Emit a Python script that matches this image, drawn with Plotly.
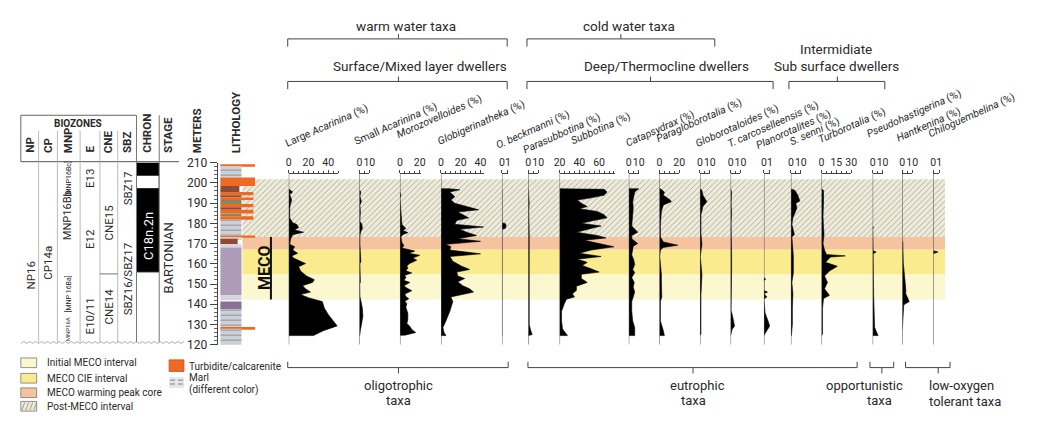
import plotly.graph_objects as go

# ======================= DATA =======================
depth_ticks = [120, 130, 140, 150, 160, 170, 180, 190, 200, 210]

interval_names = ["Initial MECO interval", "MECO CIE interval", "MECO warming peak core", "Post-MECO interval"]
interval_bottom_m = [142.4, 154.8, 167.1, 173.2]
interval_top_m = [154.8, 167.1, 173.2, 201.8]

litho_top_m = [209.2, 208.3, 202.7, 198.4, 195.5, 193.9, 192.8, 191.5, 189.6, 188.0, 186.7, 184.8, 183.5, 181.8,
               174.0, 173.2, 172.4, 169.6, 168.0, 144.4, 141.3, 137.7, 128.8, 127.9]
litho_bottom_m = [208.3, 202.7, 198.4, 195.5, 193.9, 192.8, 191.5, 189.6, 188.0, 186.7, 184.8, 183.5, 181.8, 174.0,
                  173.2, 172.4, 169.6, 168.0, 144.4, 142.0, 137.7, 128.8, 127.9, 120.0]
litho_kind = ["turbidite", "marl", "turbidite", "brown", "turbidite", "brown", "turbidite", "olive", "turbidite",
              "brown", "turbidite", "olive", "turbidite", "marl", "turbidite", "marl", "brown", "pale", "lavender",
              "pale", "purple", "marl", "turbidite", "marl"]
litho_extent = [1.0, 0.61, 1.0, 0.55, 0.95, 0.61, 0.95, 0.61, 0.95, 0.61, 0.95, 0.61, 0.95, 0.61,
                1.0, 0.61, 0.5, 0.61, 0.61, 0.61, 0.61, 0.61, 1.0, 0.61]

chron_top_m = [210.0, 203.8, 197.0]
chron_bottom_m = [203.8, 197.0, 156.0]
chron_polarity = ["N", "R", "N"]

taxa_labels = ["Large <i>Acarinina</i> (%)", "Small <i>Acarinina</i> (%)", "<i>Morozovelloides</i> (%)",
               "<i>Globigerinatheka</i> (%)", "<i>O. beckmanni</i> (%)", "<i>Parasubbotina</i> (%)",
               "<i>Subbotina</i> (%)", "<i>Catapsydrax</i> (%)", "<i>Paragloborotalia</i> (%)",
               "<i>Globorotaloides</i> (%)", "<i>T. carcoselleensis</i> (%)", "<i>Planorotalites</i> (%)",
               "<i>S. senni</i> (%)", "<i>Turborotalia</i> (%)", "<i>Pseudohastigerina</i> (%)",
               "<i>Hantkenina</i> (%)", "<i>Chiloguembelina</i> (%)"]
taxa_range = [[0, 50], [0, 10], [0, 21], [0, 44], [0, 1], [0, 10], [20, 76], [0, 10.5], [0, 20],
              [0, 10], [0, 10], [0, 1], [0, 10], [0, 30], [0, 10], [0, 10], [0, 1]]
taxa_tickvals = [[0, 20, 40], [0, 10], [0, 20], [0, 20, 40], [0, 1], [0, 10], [20, 40, 60], [0, 10], [0, 20],
                 [0, 10], [0, 10], [0, 1], [0, 10], [0, 15, 30], [0, 10], [0, 10], [0, 1]]

large_acarinina_m = [197.0, 195.5, 194.2, 191.5, 189.9, 187.5, 182.7, 180.3, 179.5, 177.9, 176.7, 175.6, 174.4, 172.4,
                     169.6, 168.4, 166.8, 165.2, 163.9, 162.8, 161.2, 160.1, 158.5, 156.4, 154.0, 152.1, 150.8, 149.2,
                     147.6, 146.0, 144.8, 143.2, 141.3, 138.1, 134.9, 131.7, 129.3, 126.9, 124.5]
large_acarinina_pct = [0, 4, 1, 3, 2, 1, 1, 4, 8, 10, 6, 15, 4, 2, 1, 6, 4, 9, 3, 5, 12, 17, 10, 12, 18, 26, 24, 14,
                       17, 22, 12, 20, 34, 36, 40, 45, 49, 35, 25]

small_acarinina_m = [196.5, 195.5, 193.5, 190.7, 189.0, 186.0, 181.0, 179.5, 177.5, 176.0, 174.0, 170.0, 161.0, 160.0,
                     151.0, 150.0, 144.0, 141.0, 138.0, 134.0, 130.0, 127.0, 124.5]
small_acarinina_pct = [0, 1.5, 0.5, 2, 0.5, 1, 0.5, 2.5, 3, 1.5, 0.5, 0.5, 1.5, 0.5, 1, 0.3, 0.5, 1.5, 3, 3.5, 2.5, 1, 0.3]

morozovelloides_m = [195.5, 193.7, 192.5, 179.4, 177.5, 176.5, 175.4, 174.5, 173.2, 170.5, 169.0, 167.8, 166.3, 165.2,
                     164.2, 162.8, 161.8, 160.2, 159.0, 157.8, 156.5, 155.5, 154.3, 153.1, 151.8, 150.8, 149.1, 148.0,
                     146.7, 145.1, 143.8, 142.7, 141.5, 140.3, 138.5, 135.5, 132.3, 130.5, 129.1, 127.5, 126.0, 124.7]
morozovelloides_pct = [0, 1, 0, 2, 6, 3, 8, 3, 1, 2, 4, 2, 15, 9, 20, 13, 17, 10, 7, 8, 6, 12, 5, 6, 4, 10, 4, 7,
                       12, 5, 6, 9, 5, 7, 6, 8, 8, 7, 10, 12, 16, 5]

globigerinatheka_m = [197.1, 196.6, 195.5, 193.1, 191.5, 189.9, 186.7, 185.6, 184.3, 182.7, 181.4, 179.5, 178.2, 177.1,
                      175.6, 174.0, 172.4, 171.1, 169.6, 168.4, 166.8, 164.9, 163.6, 161.2, 158.8, 157.2, 155.9, 154.0,
                      152.7, 151.1, 149.2, 147.6, 146.0, 144.8, 143.6, 141.3, 136.5, 131.7, 128.5, 126.1, 124.5]
globigerinatheka_pct = [8, 19, 9, 14, 10, 14, 38, 17, 22, 28, 16, 14, 43, 19, 26, 36, 17, 40, 5, 10, 9, 40, 9, 12,
                        21, 29, 16, 17, 24, 17, 22, 29, 33, 21, 10, 12, 9, 5, 2, 3, 5]

o_beckmanni_m = [197.0, 180.3, 179.8, 178.8, 177.6, 177.0, 124.5]
o_beckmanni_pct = [0, 0, 0.6, 0.7, 0.6, 0, 0]

parasubbotina_m = [197.0, 190.0, 186.0, 180.0, 178.0, 175.0, 172.0, 168.0, 165.0, 160.0, 157.0, 153.0, 150.0, 145.0,
                   140.0, 135.0, 130.0, 127.0, 125.0, 124.5]
parasubbotina_pct = [0, 1, 0.5, 1, 1.5, 1, 1, 0.8, 1, 0.5, 1, 1, 1, 0.5, 0.5, 0.5, 1, 2.5, 4, 0]

subbotina_m = [197.1, 196.8, 195.5, 193.9, 192.6, 191.5, 189.9, 188.3, 187.2, 185.9, 184.3, 182.7, 181.1, 180.0,
               178.7, 177.6, 176.7, 175.6, 174.0, 172.8, 171.6, 170.0, 168.4, 166.8, 165.2, 163.6, 162.3, 160.7,
               159.1, 157.5, 155.9, 154.8, 152.7, 150.8, 148.9, 146.8, 145.2, 143.6, 142.5, 140.5, 136.5, 131.7,
               127.7, 124.5]
subbotina_pct = [64, 65, 68, 65, 52, 38, 42, 48, 40, 58, 65, 68, 52, 42, 62, 52, 45, 37, 58, 67, 45, 62, 75, 52, 40,
                 62, 38, 48, 43, 52, 60, 42, 42, 48, 37, 37, 33, 35, 27, 25, 22, 22, 23, 28]

catapsydrax_m = [197.1, 195.5, 193.1, 190.7, 187.5, 184.3, 181.1, 178.7, 175.6, 174.0, 172.4, 170.0, 168.7, 166.8,
                 164.4, 162.0, 159.6, 157.2, 155.6, 153.2, 150.8, 148.4, 146.0, 143.6, 141.3, 136.5, 131.7, 128.5, 124.5]
catapsydrax_pct = [10, 6, 5, 4, 4.5, 4, 3, 3, 9, 3, 3, 9, 4.5, 4, 3, 5, 6, 4, 6, 3, 5.5, 4.5, 6, 4.5, 3, 3, 4, 6, 6]

paragloborotalia_m = [197.1, 195.5, 193.9, 191.5, 190.7, 189.1, 185.9, 179.5, 173.2, 170.8, 169.2, 168.1, 166.8,
                      163.6, 154.8, 150.8, 143.6, 141.3, 131.7, 126.9, 124.5]
paragloborotalia_pct = [1, 5, 4, 11, 12, 4, 2, 1, 1, 4, 18.5, 4, 1, 0.3, 2, 2, 2.4, 1, 1, 4, 5]

globorotaloides_m = [197.1, 196.3, 193.9, 190.7, 188.3, 184.3, 174.8, 169.6, 163.6, 154.8, 144.4, 136.5, 125.3, 124.5]
globorotaloides_pct = [0, 2, 3, 7, 3, 1, 1, 2, 0.3, 2, 1, 1, 1, 0]

t_carcoselleensis_m = [197.0, 195.5, 190.0, 185.0, 180.0, 174.0, 165.0, 155.0, 137.0, 134.0, 131.0, 129.3, 127.5, 124.5]
t_carcoselleensis_pct = [0, 1, 0.5, 1, 0.5, 1, 1, 1, 0.5, 2, 3, 4, 1.5, 0]

planorotalites_m = [153.2, 152.4, 151.6, 146.8, 146.0, 145.2, 143.6, 142.6, 135.7, 132.0, 129.3, 127.0, 124.5]
planorotalites_pct = [0, 0.3, 0, 0, 0.6, 0, 0.5, 0, 0.2, 0.6, 1.0, 0.5, 0]

s_senni_m = [197.0, 196.3, 193.9, 191.0, 189.9, 187.5, 185.1, 182.7, 179.5, 174.4, 173.2, 166.0, 163.6, 157.2, 155.6,
             150.8, 145.2, 138.1, 130.1, 124.5]
s_senni_pct = [0, 4, 7, 9, 5, 6, 4, 2, 1, 3.5, 1, 2.5, 2.5, 2.5, 2.5, 1, 2, 1.5, 1.5, 0.5]

turborotalia_m = [197.0, 196.3, 190.7, 183.5, 177.9, 174.8, 170.0, 166.8, 164.6, 163.9, 163.3, 162.8, 160.7, 158.8,
                  156.4, 154.0, 150.8, 147.6, 144.4, 142.8, 138.1, 125.3, 124.5]
turborotalia_pct = [0, 2, 2, 1.5, 2, 2.5, 1.5, 3, 5, 24, 9, 8, 4, 16, 8, 3, 6, 3, 8, 2, 1, 1, 0]

pseudohastigerina_m = [178.5, 177.9, 177.3, 166.4, 165.8, 165.0, 144.4, 138.1, 131.7, 128.5, 124.5]
pseudohastigerina_pct = [0, 1, 0, 0.5, 3.5, 0.5, 1, 1.5, 1.5, 2, 5.5]

hantkenina_m = [171.5, 170.8, 160.4, 154.0, 151.6, 147.6, 145.2, 141.3, 139.7, 128.5, 127.5]
hantkenina_pct = [0, 0.5, 1, 2.5, 2.5, 3.5, 3.5, 7, 1.5, 0.5, 0]

chiloguembelina_m = [166.5, 165.8, 165.0]
chiloguembelina_pct = [0, 0.8, 0]

taxa_depths = [large_acarinina_m, small_acarinina_m, morozovelloides_m, globigerinatheka_m, o_beckmanni_m,
               parasubbotina_m, subbotina_m, catapsydrax_m, paragloborotalia_m, globorotaloides_m,
               t_carcoselleensis_m, planorotalites_m, s_senni_m, turborotalia_m, pseudohastigerina_m,
               hantkenina_m, chiloguembelina_m]
taxa_values = [large_acarinina_pct, small_acarinina_pct, morozovelloides_pct, globigerinatheka_pct, o_beckmanni_pct,
               parasubbotina_pct, subbotina_pct, catapsydrax_pct, paragloborotalia_pct, globorotaloides_pct,
               t_carcoselleensis_pct, planorotalites_pct, s_senni_pct, turborotalia_pct, pseudohastigerina_pct,
               hantkenina_pct, chiloguembelina_pct]

# ======================= LAYOUT / STYLE =======================
W, H = 1047, 421
FONT = "Roboto"
TXT = "#2a2a2a"


def X(p):
    return p / W


def Y(p):
    return 1 - p / H


Y_TOP_PX, Y_BOT_PX = 161.0, 349.3
RULER_PX = 171.7
M_MIN, M_MAX = 120, 210
ruler_m = M_MAX - (RULER_PX - Y_TOP_PX) * (M_MAX - M_MIN) / (Y_BOT_PX - Y_TOP_PX)

panel_left_px = [286, 357.5, 398.5, 440, 501.7, 528.3, 560, 630, 661, 702, 733, 766.7, 794, 825, 876.7, 906.7, 938]
label_start_px = [(282, 148), (352, 146), (394, 139), (436, 146), (495, 150), (522, 155), (571, 146), (626, 148),
                  (657, 144), (697, 148), (729, 149), (758, 150), (792, 147), (821, 145), (870, 139), (900, 143),
                  (932, 139)]
LABEL_ANGLE = -24

band_colors = ["#FBF7CF", "#FAEC8E", "#F5C39E", "#EFEBDA"]
litho_colors = {"turbidite": "#EE6A22", "marl": "#CDD1D7", "brown": "#8E4A32", "olive": "#8C8660",
                "pale": "#D9D4DC", "lavender": "#AD9BBA", "purple": "#8A7296"}

fig = go.Figure()
layout = dict(width=W, height=H, margin=dict(l=0, r=0, t=0, b=0), paper_bgcolor="white",
              plot_bgcolor="rgba(0,0,0,0)", showlegend=False, font=dict(family=FONT, color=TXT))

layout["yaxis"] = dict(domain=[Y(Y_BOT_PX), Y(Y_TOP_PX)], range=[M_MIN, M_MAX], anchor="free", position=X(213),
                       side="left", tickmode="array", tickvals=depth_ticks, ticks="outside", ticklen=7,
                       tickcolor="#444", showline=True, linecolor="#444", linewidth=1, showgrid=False,
                       zeroline=False, tickfont=dict(size=12, color=TXT),
                       minor=dict(dtick=2, ticklen=3, ticks="outside", tickcolor="#666"))

# background intervals (axis x)
layout["xaxis"] = dict(domain=[X(239), X(950)], range=[0, 1], visible=False, anchor="y")
fig.add_trace(go.Bar(orientation="h", xaxis="x", yaxis="y",
                     y=[(b + t) / 2 for b, t in zip(interval_bottom_m, interval_top_m)],
                     x=[1] * len(interval_names), base=[0] * len(interval_names),
                     width=[t - b for b, t in zip(interval_bottom_m, interval_top_m)],
                     marker=dict(color=band_colors, line=dict(width=0),
                                 pattern=dict(shape=["", "", "", "/"], fgcolor="#9f9b86", bgcolor=band_colors,
                                              size=4, solidity=0.18, fillmode="overlay")),
                     hoverinfo="skip"))

# lithology (axis x2)
layout["xaxis2"] = dict(domain=[X(216.7), X(252)], range=[0, 1], visible=False, anchor="y")
fig.add_trace(go.Bar(orientation="h", xaxis="x2", yaxis="y",
                     y=[(b + t) / 2 for b, t in zip(litho_bottom_m, litho_top_m)],
                     x=litho_extent, base=[0] * len(litho_kind),
                     width=[t - b for b, t in zip(litho_bottom_m, litho_top_m)],
                     marker=dict(color=[litho_colors[k] for k in litho_kind], line=dict(width=0),
                                 pattern=dict(shape=["-" if k == "marl" else "" for k in litho_kind],
                                              fgcolor="#5d6168", bgcolor=[litho_colors[k] for k in litho_kind],
                                              size=5, solidity=0.18, fillmode="overlay")),
                     hoverinfo="skip"))

# chron (axis x3)
layout["xaxis3"] = dict(domain=[X(132), X(155)], range=[0, 1], visible=False, anchor="y")
fig.add_trace(go.Bar(orientation="h", xaxis="x3", yaxis="y",
                     y=[(b + t) / 2 for b, t in zip(chron_bottom_m, chron_top_m)],
                     x=[1] * len(chron_polarity), base=[0] * len(chron_polarity),
                     width=[t - b for b, t in zip(chron_bottom_m, chron_top_m)],
                     marker=dict(color=["black" if p == "N" else "white" for p in chron_polarity],
                                 line=dict(width=1, color="black")),
                     hoverinfo="skip"))

# taxa panels
annotations = []
for i in range(len(taxa_labels)):
    ax_id = i + 4
    xname = "x%d" % ax_id
    r0, r1 = taxa_range[i]
    ppu = 6.0 if r1 - r0 <= 1 else 1.0
    left = panel_left_px[i]
    right = left + (r1 - r0) * ppu
    axd = dict(domain=[X(left), X(right)], range=[r0, r1], anchor="free", position=Y(RULER_PX), side="top",
               tickmode="array", tickvals=taxa_tickvals[i], ticks="outside", ticklen=3, tickcolor="#444",
               tickangle=0, showline=True, linecolor="#444", linewidth=1, showgrid=False, zeroline=False,
               tickfont=dict(size=10.5, color=TXT))
    if r1 - r0 > 1:
        axd["minor"] = dict(dtick=5, ticklen=2, ticks="outside", tickcolor="#444")
    layout["xaxis%d" % ax_id] = axd
    d = taxa_depths[i]
    v = taxa_values[i]
    fig.add_trace(go.Scatter(x=[r0] + list(v) + [r0], y=[d[0]] + list(d) + [d[-1]], xaxis=xname, yaxis="y",
                             mode="lines", fill="toself", fillcolor="black",
                             line=dict(color="black", width=0.6), hoverinfo="skip"))
    fig.add_trace(go.Scatter(x=[r0, r0], y=[M_MIN, ruler_m], xaxis=xname, yaxis="y", mode="lines",
                             line=dict(color="#555", width=1), hoverinfo="skip"))
    sx, sy = label_start_px[i]
    annotations.append(dict(text=taxa_labels[i], x=X(sx - 4), y=Y(sy + 2), xref="paper", yref="paper",
                            xanchor="left", yanchor="bottom", textangle=LABEL_ANGLE, showarrow=False,
                            font=dict(size=10.5, color=TXT, family=FONT)))

shapes = []


def line(x0, y0, x1, y1, color="#444", w=1):
    shapes.append(dict(type="line", xref="paper", yref="paper", x0=X(x0), y0=Y(y0), x1=X(x1), y1=Y(y1),
                       line=dict(color=color, width=w)))


def text(t, x, y, size=12, angle=0, xa="center", ya="middle", color=TXT, bold=False):
    if bold:
        t = "<b>%s</b>" % t
    annotations.append(dict(text=t, x=X(x), y=Y(y), xref="paper", yref="paper", xanchor=xa, yanchor=ya,
                            textangle=angle, showarrow=False, font=dict(size=size, color=color, family=FONT)))


def top_bracket(x0, x1, xc, y):
    line(x0, y, x1, y)
    line(x0, y, x0, y + 8)
    line(x1, y, x1, y + 8)
    line(xc, y, xc, y - 5)


def bottom_bracket(x0, x1, xc, y):
    line(x0, y, x1, y)
    line(x0, y, x0, y - 6)
    line(x1, y, x1, y - 6)
    line(xc, y, xc, y + 6)


# top group headers
text("warm water taxa", 405, 20, 13.5)
top_bracket(285, 507, 397, 33)
text("Surface/Mixed layer dwellers", 419, 61, 13.5)
top_bracket(285, 507, 397, 77)
text("cold water taxa", 630, 20, 13.5)
top_bracket(527, 717, 622, 33)
text("Deep/Thermocline dwellers", 668, 61, 13.5)
top_bracket(527, 776, 652, 77)
text("Intermidiate", 840, 43, 13.5)
text("Sub surface dwellers", 840, 61, 13.5)
top_bracket(792, 889, 841, 77)

# bottom groups
bottom_bracket(285, 508, 397, 373)
text("oligotrophic", 397, 392, 13)
text("taxa", 397, 407, 13)
bottom_bracket(528, 861, 695, 373)
text("eutrophic", 700, 392, 13)
text("taxa", 695, 407, 13)
bottom_bracket(874, 898, 886, 373)
text("opportunistic", 868, 392, 13)
text("taxa", 884, 407, 13)
bottom_bracket(910, 955, 943, 373)
text("low-oxygen", 967, 392, 13)
text("tolerant taxa", 970, 408, 13)

# biozone table
line(15, 112, 132, 112, "#666")
line(15, 160, 175, 160, "#555")
line(15, 112, 15, 160, "#666")
for xs in [33, 52, 75, 95, 113]:
    line(xs, 128, xs, 347, "#aaa", 0.8)
for xs in [132, 155]:
    line(xs, 112, xs, 347, "#777", 1)
shapes.append(dict(type="line", xref="paper", yref="y", x0=X(95), x1=X(113), y0=155, y1=155,
                   line=dict(color="#777", width=1)))
# wavy lower edge
wave = "M %f,%f" % (X(15), Y(348))
xx = 15.0
k = 0
while xx < 180:
    xx += 3
    k += 1
    wave += " L %f,%f" % (X(xx), Y(348 - (2 if k % 2 else 0)))
shapes.append(dict(type="path", xref="paper", yref="paper", path=wave, line=dict(color="#999", width=0.8)))

text("BIOZONES", 73, 120, 10, bold=True)
for lab, xh in [("NP", 24), ("CP", 43), ("MNP", 63), ("E", 85), ("CNE", 104), ("SBZ", 123), ("CHRON", 143),
                ("STAGE", 164), ("METERS", 194), ("LITHOLOGY", 233)]:
    text(lab, xh, 153, 11.5, angle=-90, ya="bottom", bold=True)

text("NP16", 25, 278, 11.5, angle=-90)
text("CP14a", 43, 265, 11.5, angle=-90)
text("[MNP16Bc]", 63, 178, 7, angle=-90)
text("MNP16Bb", 63, 215, 11, angle=-90)
text("[MNP 16Ba]", 63, 297, 7, angle=-90)
text("MNP16A", 63, 333, 6, angle=-90)
text("E13", 85, 178, 11.5, angle=-90)
text("E12", 85, 240, 11.5, angle=-90)
text("E10/11", 85, 320, 11.5, angle=-90)
text("CNE15", 104, 223, 11.5, angle=-90)
text("CNE14", 104, 310, 11.5, angle=-90)
text("SBZ17", 123, 188, 11.5, angle=-90)
text("SBZ16/SBZ17", 123, 282, 11.5, angle=-90)
text("C18n.2n", 143.5, 237, 13, angle=-90, color="white")
text("BARTONIAN", 164, 260, 13, angle=-90)

# MECO label + line
text("MECO", 261, 270, 16, angle=-90, bold=True, color="#111")
shapes.append(dict(type="line", xref="paper", yref="y", x0=X(268), x1=X(268), y0=interval_bottom_m[0],
                   y1=interval_top_m[2], line=dict(color="#111", width=2)))

# legend
leg_y = [368, 384, 399, 413]
for c, ycen, name in zip(band_colors, leg_y, interval_names):
    shapes.append(dict(type="rect", xref="paper", yref="paper", x0=X(15), x1=X(31), y0=Y(ycen + 5),
                       y1=Y(ycen - 5), fillcolor=c, line=dict(color="#777", width=0.8)))
    text(name, 39, ycen, 10, xa="left")
for j in range(4):
    line(16 + 4 * j, leg_y[3] + 4, 19 + 4 * j, leg_y[3] - 4, "#8f8b78", 0.8)
shapes.append(dict(type="rect", xref="paper", yref="paper", x0=X(165), x1=X(180), y0=Y(377), y1=Y(365),
                   fillcolor=litho_colors["turbidite"], line=dict(color="#c0501a", width=0.8)))
text("Turbidite/calcarenite", 183, 372, 10, xa="left")
shapes.append(dict(type="rect", xref="paper", yref="paper", x0=X(165), x1=X(180), y0=Y(394), y1=Y(383),
                   fillcolor="#e4e6ea", line=dict(width=0)))
for yy in [386, 390]:
    line(166, yy, 171, yy, "#666", 0.8)
    line(174, yy, 179, yy, "#666", 0.8)
text("Marl", 183, 383, 10, xa="left")
text("(different color)", 183, 396, 10, xa="left")

layout["shapes"] = shapes
layout["annotations"] = annotations
fig.update_layout(**layout)
fig.write_html("out.html")
